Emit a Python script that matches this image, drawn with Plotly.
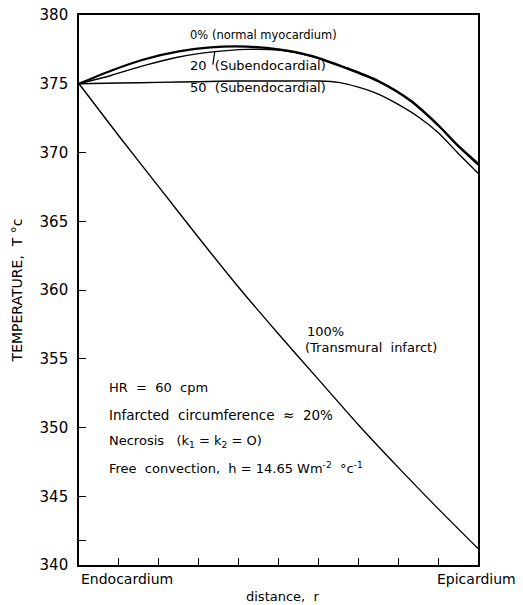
import plotly.graph_objects as go

# distance across wall: 0 = endocardium, 1 = epicardium
t_pts = [0.0, 0.08, 0.16, 0.25, 0.33, 0.42, 0.5, 0.58, 0.67, 0.75, 0.83, 0.9, 0.95, 1.0]
T_0 = [375.0, 375.95, 376.75, 377.35, 377.65, 377.7, 377.5, 377.05, 376.15, 375.2, 373.8, 372.0, 370.5, 369.2]
T_20 = [375.0, 375.6, 376.3, 376.95, 377.3, 377.5, 377.45, 377.0, 376.1, 375.15, 373.75, 371.95, 370.45, 369.1]

t_50 = [0.0, 0.1, 0.2, 0.3, 0.4, 0.5, 0.6, 0.65, 0.7, 0.75, 0.8, 0.85, 0.9, 0.95, 1.0]
T_50 = [375.0, 375.05, 375.1, 375.15, 375.2, 375.2, 375.2, 375.1, 374.75, 374.25, 373.5, 372.6, 371.45, 369.95, 368.5]

t_100 = [0.0, 0.1, 0.2, 0.3, 0.4, 0.5, 0.6, 0.7, 0.8, 0.9, 1.0]
T_100 = [375.0, 371.2, 367.5, 363.8, 360.2, 356.8, 353.5, 350.2, 347.1, 344.1, 341.2]

y_tickvals = [340, 345, 350, 355, 360, 365, 370, 375, 380]
y_ticktext = ["340", "345", "350", "355", "360", "365", "370", "375", "380"]
y_extra_tick = [341.8]
x_tickvals = [0.0, 0.1, 0.2, 0.3, 0.4, 0.5, 0.6, 0.7, 0.8, 0.9, 1.0]

FONT = "DejaVu Sans"
fig = go.Figure()
line_kw = dict(mode="lines", showlegend=False, hoverinfo="skip")
fig.add_trace(go.Scatter(x=t_100, y=T_100, line=dict(color="black", width=1.4, shape="spline", smoothing=0.8), **line_kw))
fig.add_trace(go.Scatter(x=t_50, y=T_50, line=dict(color="black", width=1.4, shape="spline", smoothing=0.6), **line_kw))
fig.add_trace(go.Scatter(x=t_pts, y=T_20, line=dict(color="black", width=1.4, shape="spline", smoothing=0.8), **line_kw))
fig.add_trace(go.Scatter(x=t_pts, y=T_0, line=dict(color="black", width=2.2, shape="spline", smoothing=0.8), **line_kw))

ann = []
def txt(x, y, s, size=13, xanchor="left", xref="x", yref="y"):
    ann.append(dict(x=x, y=y, xref=xref, yref=yref, text=s, showarrow=False,
                    xanchor=xanchor, yanchor="middle",
                    font=dict(family=FONT, size=size, color="black")))

txt(0.273, 378.55, "0% (normal myocardium)", size=11.5)
txt(0.273, 376.3, "20  (Subendocardial)")
txt(0.273, 374.7, "50  (Subendocardial)")
txt(0.566, 357.0, "100%")
txt(0.561, 355.85, "(Transmural  infarct)")
txt(0.07, 352.9, "HR  =  60  cpm")
txt(0.07, 350.9, "Infarcted  circumference  ≈  20%", size=13.5)
txt(0.07, 348.95, "Necrosis   (k<sub>1</sub> = k<sub>2</sub> = O)")
txt(0.07, 347.05, "Free  convection,  h = 14.65 Wm<sup>-2</sup>  °c<sup>-1</sup>")
txt(0.0, -0.026, "Endocardium", size=14, xref="x", yref="paper")
txt(0.995, -0.026, "Epicardium", size=14, xanchor="center", xref="x", yref="paper")
txt(0.51, -0.058, "distance,  r", size=13, xanchor="center", xref="x", yref="paper")
# leader from the 20% label to its curve
ann.append(dict(x=0.34, y=377.3, xref="x", yref="y", ax=-2, ay=14, text="",
                showarrow=True, arrowhead=0, arrowwidth=1.2, arrowcolor="black"))

fig.update_layout(
    width=523, height=605,
    margin=dict(l=79, r=45, t=15, b=40),
    paper_bgcolor="white", plot_bgcolor="white",
    font=dict(family=FONT, size=15, color="black"),
    annotations=ann,
    xaxis=dict(range=[0, 1], tickvals=x_tickvals, showticklabels=False,
               ticks="inside", ticklen=7, tickwidth=1.3, tickcolor="black",
               showline=True, linecolor="black", linewidth=1.6, mirror=True,
               showgrid=False, zeroline=False, automargin=False),
    yaxis=dict(range=[340, 380], tickvals=y_tickvals, ticktext=y_ticktext,
               ticks="inside", ticklen=7, tickwidth=1.3, tickcolor="black",
               minor=dict(tickvals=y_extra_tick, ticks="inside", ticklen=7,
                          tickwidth=1.3, tickcolor="black", showgrid=False),
               showline=True, linecolor="black", linewidth=1.6, mirror=True,
               showgrid=False, zeroline=False, ticklabelstandoff=6, automargin=False,
               ticklabeloverflow="allow",
               tickfont=dict(family=FONT, size=15),
               title=dict(text="TEMPERATURE,  T °c", font=dict(family=FONT, size=14), standoff=14)),
)
# remove the browser's default 8px page margin so the figure sits at the window's corner
fig.write_html("out.html", config={"displayModeBar": False},
               post_script="document.body.style.margin='0';")
